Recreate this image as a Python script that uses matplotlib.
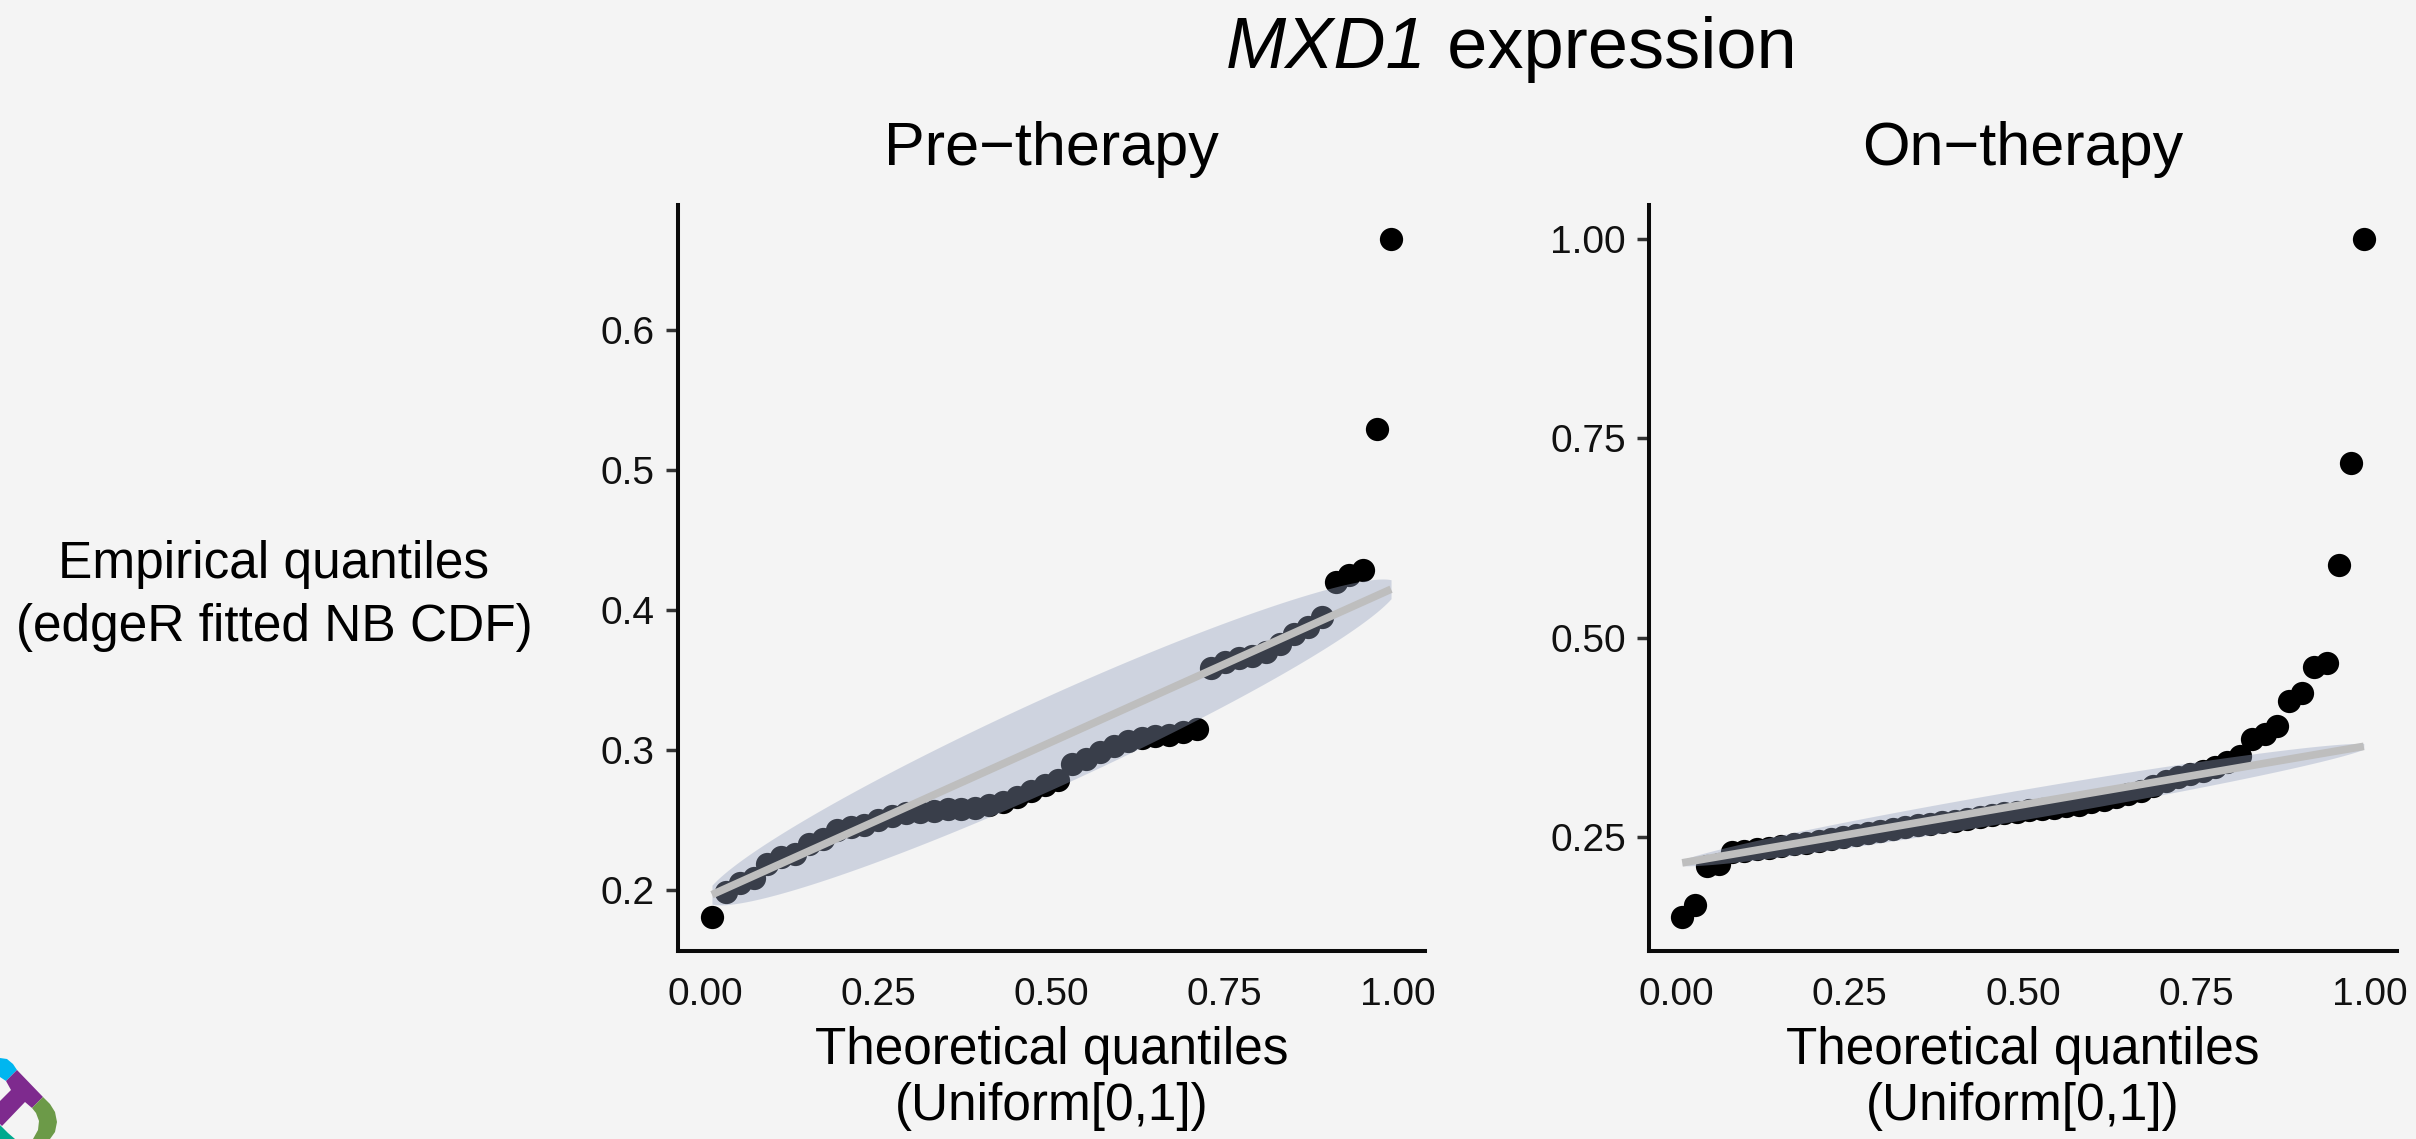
import numpy as np
import matplotlib.pyplot as plt
from matplotlib.patches import Polygon

plt.rcParams['font.family'] = ['Liberation Sans', 'DejaVu Sans']

# theoretical quantiles of Uniform[0,1]: 50 samples pre-therapy
pre_x = [0.01, 0.03, 0.05, 0.07, 0.09, 0.11, 0.13, 0.15, 0.17, 0.19,
         0.21, 0.23, 0.25, 0.27, 0.29, 0.31, 0.33, 0.35, 0.37, 0.39,
         0.41, 0.43, 0.45, 0.47, 0.49, 0.51, 0.53, 0.55, 0.57, 0.59,
         0.61, 0.63, 0.65, 0.67, 0.69, 0.71, 0.73, 0.75, 0.77, 0.79,
         0.81, 0.83, 0.85, 0.87, 0.89, 0.91, 0.93, 0.95, 0.97, 0.99]

# 56 samples on-therapy
on_x = [0.0089, 0.0268, 0.0446, 0.0625, 0.0804, 0.0982, 0.1161, 0.1339, 0.1518, 0.1696,
        0.1875, 0.2054, 0.2232, 0.2411, 0.2589, 0.2768, 0.2946, 0.3125, 0.3304, 0.3482,
        0.3661, 0.3839, 0.4018, 0.4196, 0.4375, 0.4554, 0.4732, 0.4911, 0.5089, 0.5268,
        0.5446, 0.5625, 0.5804, 0.5982, 0.6161, 0.6339, 0.6518, 0.6696, 0.6875, 0.7054,
        0.7232, 0.7411, 0.7589, 0.7768, 0.7946, 0.8125, 0.8304, 0.8482, 0.8661, 0.8839,
        0.9018, 0.9196, 0.9375, 0.9554, 0.9732, 0.9911]

# empirical quantiles (edgeR fitted NB CDF)
pre_q = [0.181, 0.199, 0.205, 0.209, 0.219, 0.224, 0.226, 0.233, 0.237, 0.243,
         0.245, 0.247, 0.250, 0.253, 0.255, 0.256, 0.257, 0.258, 0.258, 0.259,
         0.261, 0.263, 0.267, 0.271, 0.275, 0.279, 0.290, 0.294, 0.299, 0.303,
         0.307, 0.309, 0.310, 0.311, 0.313, 0.315, 0.359, 0.363, 0.366, 0.367,
         0.370, 0.376, 0.383, 0.388, 0.395, 0.420, 0.425, 0.429, 0.529, 0.665]

on_q = [0.150, 0.165, 0.214, 0.217, 0.231, 0.233, 0.235, 0.237, 0.239, 0.241,
        0.243, 0.245, 0.248, 0.250, 0.253, 0.256, 0.258, 0.261, 0.263, 0.265,
        0.267, 0.269, 0.271, 0.273, 0.276, 0.278, 0.280, 0.282, 0.284, 0.286,
        0.287, 0.289, 0.291, 0.294, 0.297, 0.300, 0.304, 0.308, 0.314, 0.320,
        0.325, 0.329, 0.333, 0.338, 0.344, 0.352, 0.373, 0.379, 0.389, 0.421,
        0.431, 0.463, 0.469, 0.591, 0.719, 1.000]

# fitted reference line (ends) and half width of the band at x = 0.5
pre_fit = [0.197, 0.415]
on_fit = [0.218, 0.364]
pre_band = 0.034
on_band = 0.019

pre_yticks = [0.2, 0.3, 0.4, 0.5, 0.6]
on_yticks = [0.25, 0.50, 0.75, 1.00]
xticks = [0.0, 0.25, 0.5, 0.75, 1.0]

BG = '#f4f4f4'
W, H = 2416, 1139


def panel(ax, x, q, fit_y, band, title, yticks, yfmt):
    ax.set_facecolor(BG)
    ax.scatter(x, q, s=280, color='black', linewidths=0, zorder=2)
    fit_x = [x[0], x[-1]]
    xs = np.linspace(fit_x[0], fit_x[1], 300)
    line = np.interp(xs, fit_x, fit_y)
    hw = band * 2 * np.sqrt(xs * (1 - xs))
    ax.fill_between(xs, line - hw, line + hw, color='#94a1c0', alpha=0.39,
                    lw=0, zorder=3)
    ax.plot(fit_x, fit_y, color='#bebebe', lw=5.5, solid_capstyle='butt', zorder=4)

    lo, hi = min(q), max(q)
    pad = 0.05 * (hi - lo)
    ax.set_ylim(lo - pad, hi + pad)
    ax.set_xlim(-0.039, 1.039)

    ax.set_xticks(xticks)
    ax.set_xticklabels(['%.2f' % t for t in xticks])
    ax.set_yticks(yticks)
    ax.set_yticklabels([yfmt % t for t in yticks])
    ax.tick_params(axis='x', length=0, pad=19, labelsize=28, labelcolor='#111111')
    ax.tick_params(axis='y', length=8.6, width=2.5, color='#333333', pad=8,
                   labelsize=28, labelcolor='#111111')

    for s in ['top', 'right']:
        ax.spines[s].set_visible(False)
    for s in ['left', 'bottom']:
        ax.spines[s].set_linewidth(2.9)
        ax.spines[s].set_color('#0a0a0a')
        ax.spines[s].set_capstyle('projecting')

    ax.set_title(title, fontsize=44, pad=29)
    ax.set_xlabel('Theoretical quantiles\n(Uniform[0,1])', fontsize=37,
                  linespacing=1.2, labelpad=9)


fig = plt.figure(figsize=(W / 100, H / 100), dpi=100, facecolor=BG)
ax1 = fig.add_axes([678 / W, 1 - 951 / H, 747 / W, 746 / H])
ax2 = fig.add_axes([1649 / W, 1 - 951 / H, 748 / W, 746 / H])

panel(ax1, pre_x, pre_q, pre_fit, pre_band, 'Pre\u2212therapy', pre_yticks, '%.1f')
panel(ax2, on_x, on_q, on_fit, on_band, 'On\u2212therapy', on_yticks, '%.2f')

# overall title, gene name in italics
t1 = fig.text(1226 / W, 1 - 68 / H, 'MXD1', fontsize=52, style='italic',
              ha='left', va='baseline')
fig.canvas.draw()
ax1.annotate(' expression', xy=(1, 0), xycoords=t1, fontsize=52,
             ha='left', va='bottom', annotation_clip=False)

fig.text(274 / W, 1 - 596 / H, 'Empirical quantiles\n(edgeR fitted NB CDF)',
         fontsize=37, ha='center', va='center', multialignment='center',
         linespacing=1.35)

# corner logo (partly cut off)
logo = [
    ('#00b6f0', [(0, 1058), (7, 1059), (13, 1064), (17, 1070), (6, 1081), (0, 1077)]),
    ('#7e2a8e', [(6, 1081), (17, 1070), (43, 1097), (32, 1108), (25, 1102),
                 (2, 1126), (0, 1124), (0, 1101), (11, 1090)]),
    ('#6c9a48', [(43, 1097), (50, 1104), (55, 1112), (57, 1122), (55, 1132),
                 (50, 1139), (33, 1139), (38, 1130), (39, 1121), (36, 1113), (32, 1108)]),
    ('#00a98e', [(0, 1125), (8, 1133), (15, 1139), (0, 1139)]),
]
for col, pts in logo:
    fig.patches.append(Polygon([(px / W, 1 - py / H) for px, py in pts], closed=True,
                               facecolor=col, edgecolor='none',
                               transform=fig.transFigure))

fig.savefig('out.png', dpi=100, facecolor=BG)
